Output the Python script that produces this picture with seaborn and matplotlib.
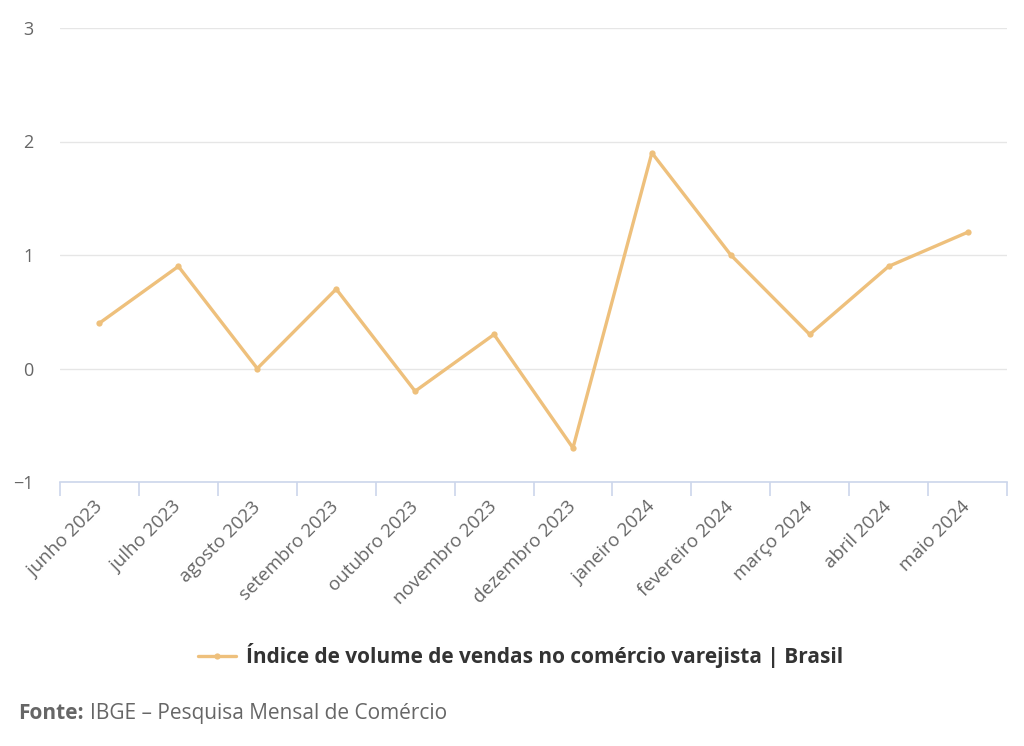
import matplotlib
matplotlib.use("Agg")
import matplotlib.pyplot as plt
import seaborn as sns
import pandas as pd
import numpy as np

months = ["junho 2023", "julho 2023", "agosto 2023", "setembro 2023", "outubro 2023",
          "novembro 2023", "dezembro 2023", "janeiro 2024", "fevereiro 2024",
          "março 2024", "abril 2024", "maio 2024"]
values = [0.4, 0.9, 0.0, 0.7, -0.2, 0.3, -0.7, 1.9, 1.0, 0.3, 0.9, 1.2]
yticks = [-1, 0, 1, 2, 3]
series_name = "Índice de volume de vendas no comércio varejista | Brasil"

sns.set_theme(style="white")
plt.rcParams['font.family'] = ['Open Sans', 'DejaVu Sans']

df = pd.DataFrame({"x": np.arange(len(months)), "y": values})

fig = plt.figure(figsize=(10.24, 7.46), dpi=100)
ax = fig.add_axes([60/1024, 1-482/746, (1007-60)/1024, (482-28)/746])

color = "#EEC07C"
sns.lineplot(data=df, x="x", y="y", ax=ax, color=color, linewidth=2.4,
             marker="o", markersize=4.5, markeredgewidth=0, legend=False)

ax.set_xlim(-0.5, len(months) - 0.5)
ax.set_ylim(-1, 3)
ax.set_yticks(yticks)
ax.set_yticklabels([str(v).replace("-", "−") for v in yticks])
ax.grid(axis="y", color="#e6e6e6", linewidth=1)
ax.set_axisbelow(True)
for s in ["top", "right", "left"]:
    ax.spines[s].set_visible(False)
ax.spines["bottom"].set_color("#ccd6eb")
ax.spines["bottom"].set_linewidth(1.2)

ax.set_xticks(np.arange(len(months)))
ax.set_xticklabels(months, rotation=45, ha="right", va="center", rotation_mode="anchor",
                   fontsize=13.5, color="#666666")
ax.tick_params(axis="x", which="major", bottom=False, length=0, pad=16)
ax.set_xticks(np.arange(-0.5, len(months), 1), minor=True)
ax.tick_params(axis="x", which="minor", bottom=True, length=10, color="#ccd6eb",
               width=1.2, direction="out")
ax.tick_params(axis="y", length=0, labelsize=13, labelcolor="#666666", pad=19)
ax.set_xlabel("")
ax.set_ylabel("")

handle = plt.Line2D([], [], color=color, linewidth=2.4, marker="o", markersize=4.5, markeredgewidth=0)
leg = fig.legend([handle], [series_name], loc="center", bbox_to_anchor=(521/1024, 1-656/746),
                 frameon=False, handlelength=1.8, handletextpad=0.5,
                 prop={"weight": "bold", "size": 15})
for t in leg.get_texts():
    t.set_color("#333333")

t1 = fig.text(18/1024, 1-719/746, "Fonte:", fontsize=15, fontweight="bold",
              color="#666666", va="baseline", ha="left")
fig.canvas.draw()
bb = t1.get_window_extent(renderer=fig.canvas.get_renderer())
fig.text((bb.x1 + 6)/1024, 1-719/746, "IBGE – Pesquisa Mensal de Comércio", fontsize=15,
         color="#666666", va="baseline", ha="left")

fig.savefig("out.png", dpi=100, facecolor="white")
